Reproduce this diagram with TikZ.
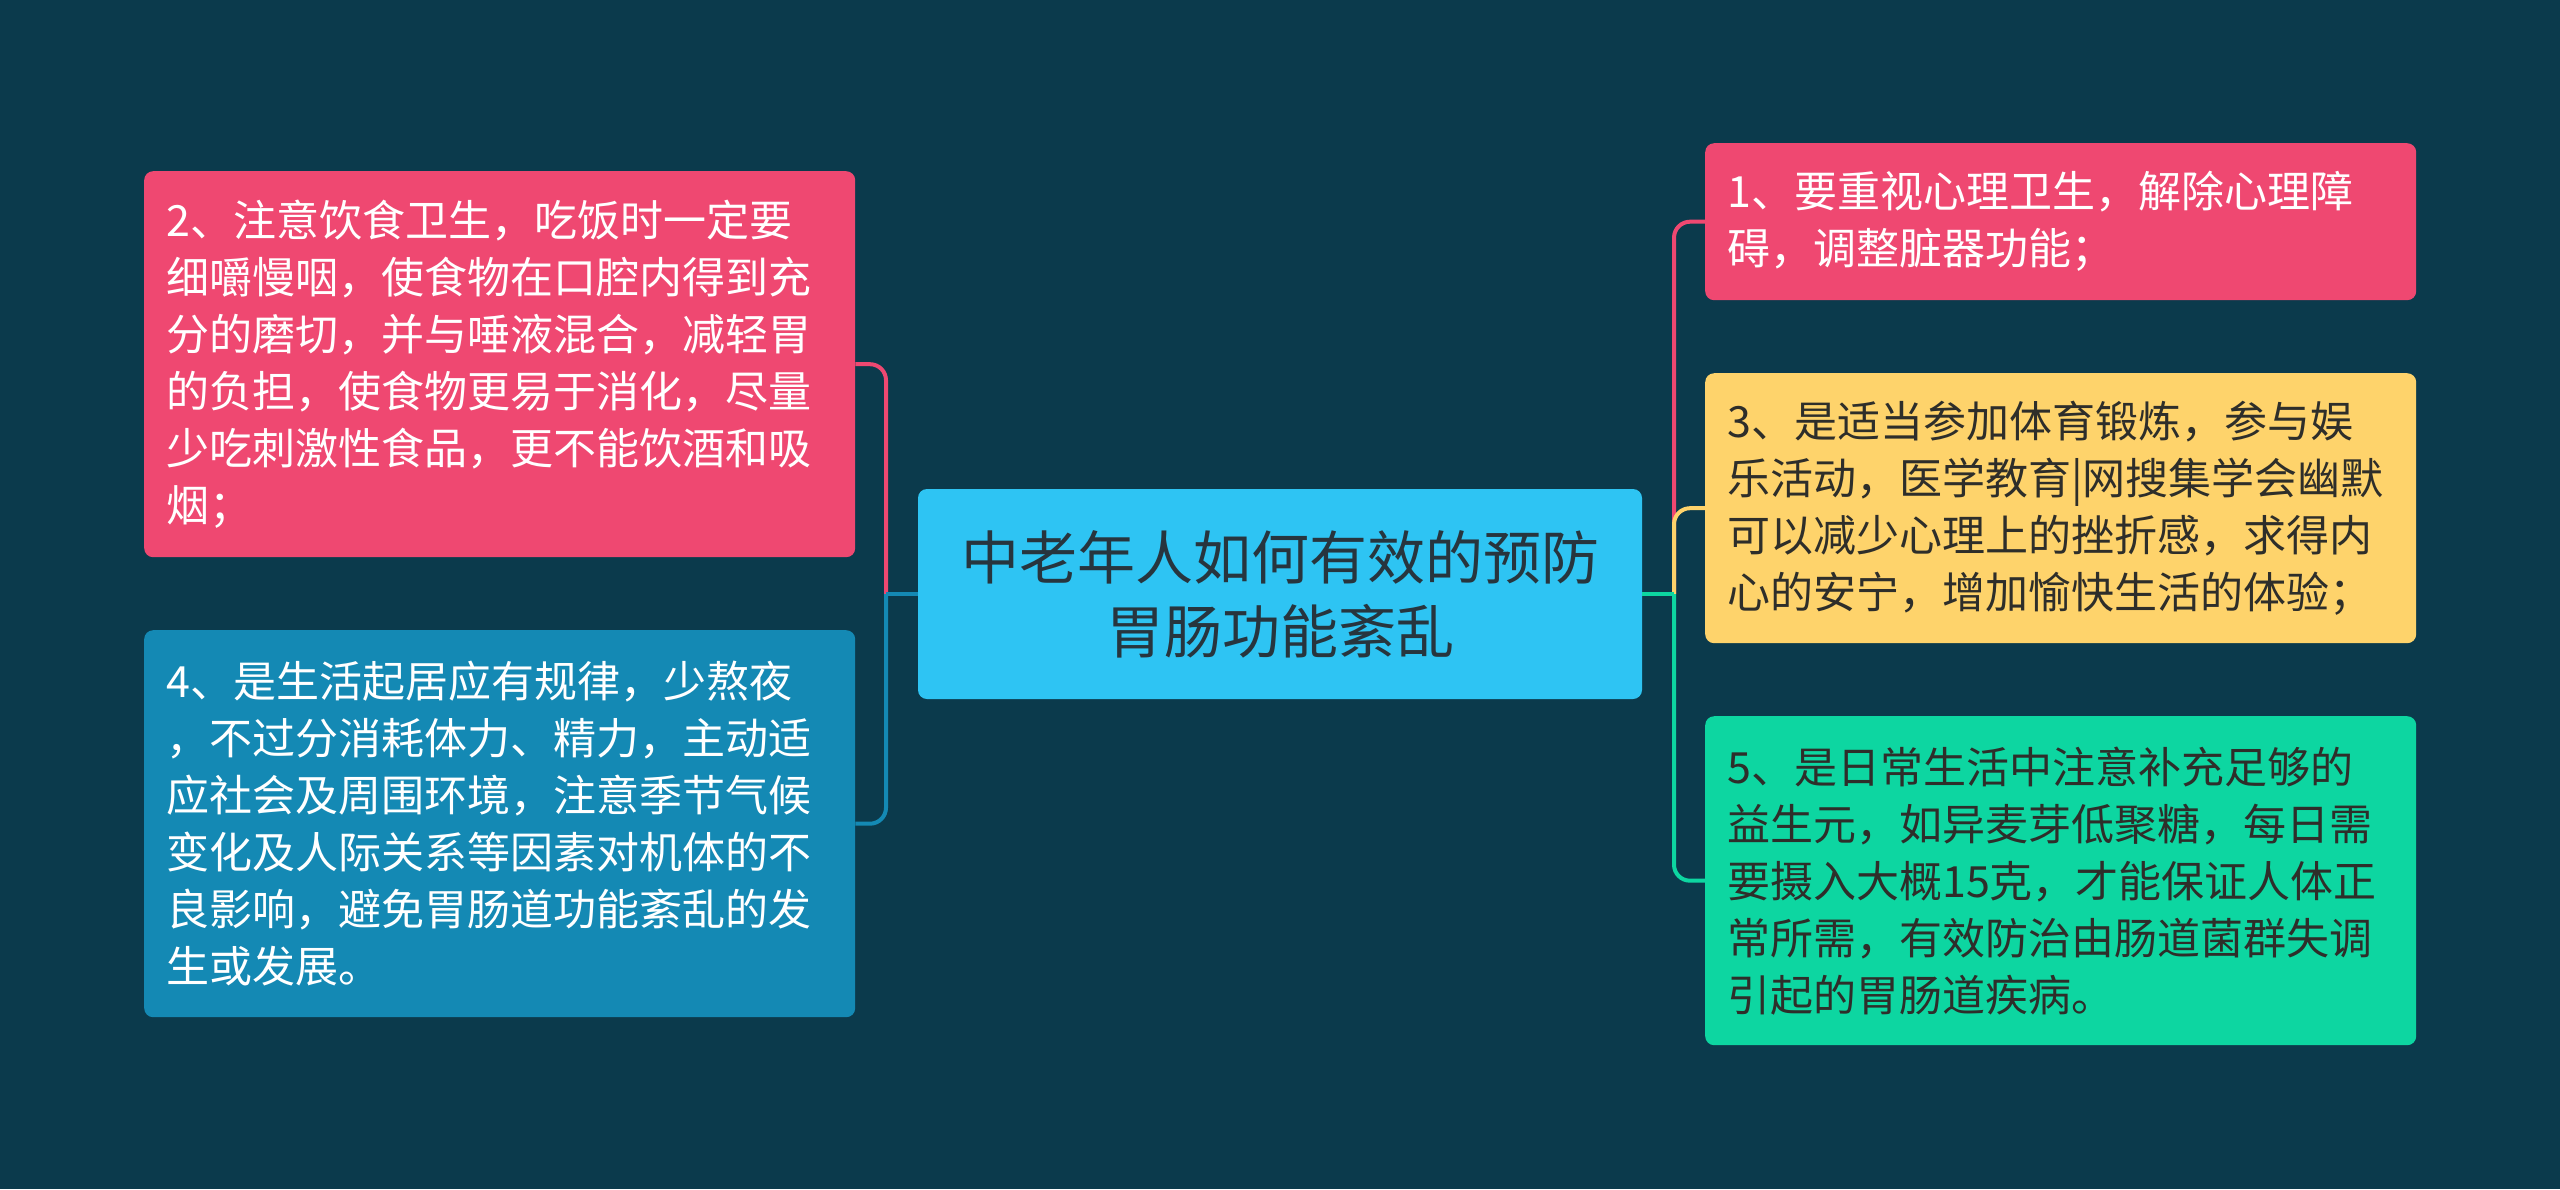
\documentclass[tikz,border=0pt]{standalone}
\usepackage{fontspec}
\setmainfont{Noto Sans CJK SC}
\usetikzlibrary{positioning}
\definecolor{bgc}{HTML}{0B3A4C}
\definecolor{cmid}{HTML}{2EC4F3}
\definecolor{cpink}{HTML}{EF4871}
\definecolor{cblue}{HTML}{1489B4}
\definecolor{cyellow}{HTML}{FED36B}
\definecolor{cgreen}{HTML}{0DD6A1}
\definecolor{ctext}{HTML}{27353E}
\definecolor{ctextb}{HTML}{2E2E2A}

\begin{document}
\begin{tikzpicture}[x=1pt,y=-1pt,
    tip/.style={rounded corners=9pt,anchor=north west,align=left,inner xsep=22pt,
      text width=667pt,font=\fontsize{43}{57}\selectfont},
    link/.style={line width=4pt,rounded corners=16pt}]
    \fill[bgc] (0,0) rectangle (2560,1189);
    \node[fill=cmid,rounded corners=9pt,minimum width=724pt,minimum height=210pt,
      align=center,text=ctext,font=\fontsize{58}{74}\selectfont] (root) at (1280,594)
      {中老年人如何有效的预防\\胃肠功能紊乱};
    \node[tip,fill=cpink,text=white,minimum height=386pt] (n2) at (144,171)
      {2、注意饮食卫生，吃饭时一定要\\细嚼慢咽，使食物在口腔内得到充\\分的磨切，并与唾液混合，减轻胃\\的负担，使食物更易于消化，尽量\\少吃刺激性食品，更不能饮酒和吸\\烟；};
    \node[tip,fill=cblue,text=white,minimum height=387pt] (n4) at (144,630)
      {4、是生活起居应有规律，少熬夜\\，不过分消耗体力、精力，主动适\\应社会及周围环境，注意季节气候\\变化及人际关系等因素对机体的不\\良影响，避免胃肠道功能紊乱的发\\生或发展。};
    \node[tip,fill=cpink,text=white,minimum height=157pt] (n1) at (1705,143)
      {1、要重视心理卫生，解除心理障\\碍，调整脏器功能；};
    \node[tip,fill=cyellow,text=ctextb,minimum height=270pt] (n3) at (1705,373)
      {3、是适当参加体育锻炼，参与娱\\乐活动，医学教育|网搜集学会幽默\\可以减少心理上的挫折感，求得内\\心的安宁，增加愉快生活的体验；};
    \node[tip,fill=cgreen,text=ctextb,minimum height=329pt] (n5) at (1705,716)
      {5、是日常生活中注意补充足够的\\益生元，如异麦芽低聚糖，每日需\\要摄入大概15克，才能保证人体正\\常所需，有效防治由肠道菌群失调\\引起的胃肠道疾病。};
    \coordinate (lj) at (886,594);
    \coordinate (rj) at (1674,594);
    \draw[link,cpink] (lj) |- (n2.east);
    \draw[link,cblue] (lj) |- (n4.east);
    \draw[link,cblue] (root.west) -- (lj);
    \draw[link,cpink] (rj) |- (n1.west);
    \draw[link,cyellow] (rj) |- (n3.west);
    \draw[link,cgreen] (rj) |- (n5.west);
    \draw[link,cgreen] (root.east) -- (rj);
\end{tikzpicture}
\end{document}
